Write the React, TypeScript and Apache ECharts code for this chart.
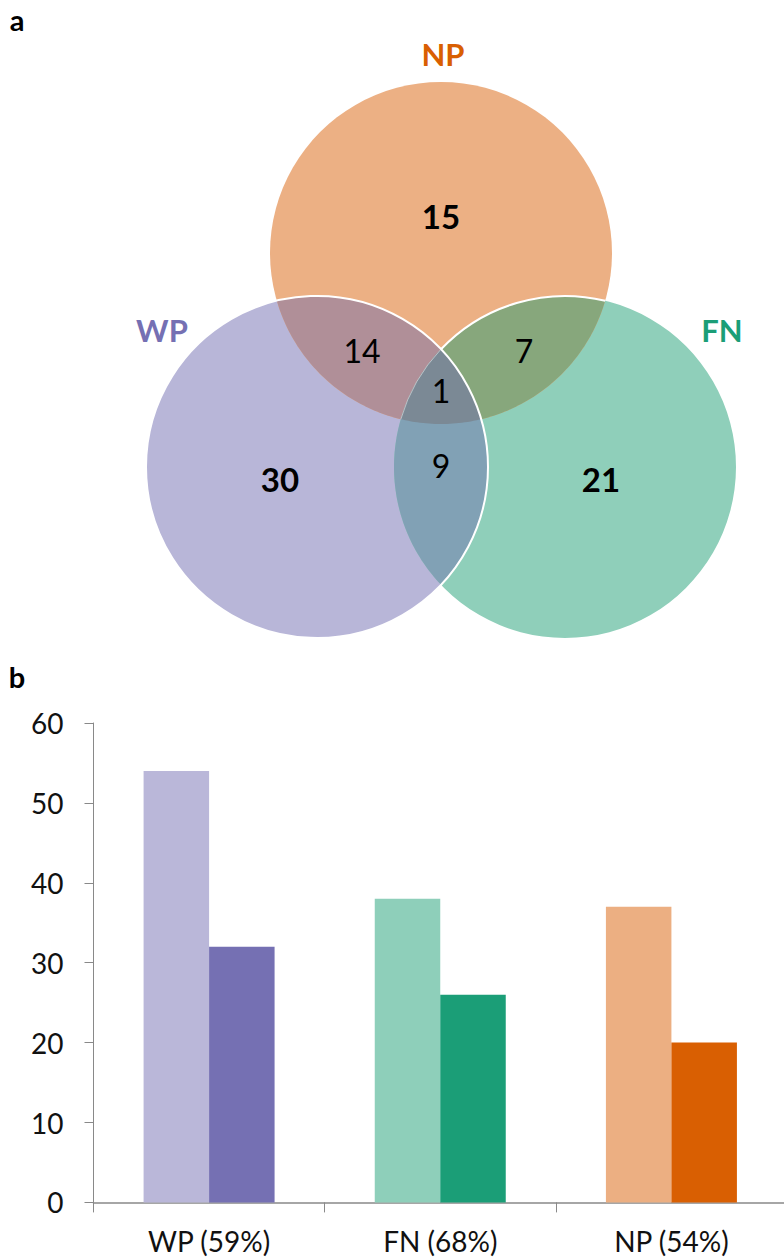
import React, { useEffect, useRef } from "react";
import * as echarts from "echarts";

// ---------- Bar chart data (panel b) ----------
const categories = ["WP (59%)", "FN (68%)", "NP (54%)"];
const lightValues = [54, 38, 37];
const darkValues = [32, 26, 20];
const lightColors = ["#bab7d9", "#8ecfba", "#ecaf82"];
const darkColors = ["#7570b3", "#1b9e77", "#d95f02"];
const yMin = 0;
const yMax = 60;
const yInterval = 10;

// ---------- Venn data (panel a) ----------
const vennSets = ["WP", "FN", "NP"];
const vennSetColors = ["#7570b3", "#1b9e77", "#d95f02"];
const vennOnlyCounts = [30, 21, 15]; // WP only, FN only, NP only
const vennPairNames = ["WP∩NP", "FN∩NP", "WP∩FN"];
const vennPairCounts = [14, 7, 9];
const vennTripleCount = 1;

// fills
const onlyFills = ["#b8b6d8", "#8fcfba", "#ecb084"];
const pairFills = ["#b08f98", "#87a77c", "#81a1b5"];
const tripleFill = "#7b8995";

const FONT = "Lato, 'Open Sans', sans-serif";

type P = [number, number];

function circlePoly(cx: number, cy: number, r: number, n = 360): P[] {
  const pts: P[] = [];
  for (let i = 0; i < n; i++) {
    const a = (2 * Math.PI * i) / n;
    pts.push([cx + r * Math.cos(a), cy + r * Math.sin(a)]);
  }
  return pts;
}

function clip(subject: P[], clipper: P[]): P[] {
  let output = subject;
  const m = clipper.length;
  for (let j = 0; j < m; j++) {
    const a = clipper[j];
    const b = clipper[(j + 1) % m];
    const inside = (p: P) => (b[0] - a[0]) * (p[1] - a[1]) - (b[1] - a[1]) * (p[0] - a[0]) >= 0;
    const inter = (p: P, q: P): P => {
      const x1 = p[0], y1 = p[1], x2 = q[0], y2 = q[1];
      const x3 = a[0], y3 = a[1], x4 = b[0], y4 = b[1];
      const d = (x1 - x2) * (y3 - y4) - (y1 - y2) * (x3 - x4);
      const t = ((x1 - x3) * (y3 - y4) - (y1 - y3) * (x3 - x4)) / d;
      return [x1 + t * (x2 - x1), y1 + t * (y2 - y1)];
    };
    const input = output;
    output = [];
    const n = input.length;
    for (let i = 0; i < n; i++) {
      const cur = input[i];
      const prev = input[(i + n - 1) % n];
      const ci = inside(cur);
      const pi = inside(prev);
      if (ci) {
        if (!pi) output.push(inter(prev, cur));
        output.push(cur);
      } else if (pi) {
        output.push(inter(prev, cur));
      }
    }
  }
  return output;
}

function circleIntersections(c1: P, c2: P, r: number): P[] {
  const dx = c2[0] - c1[0];
  const dy = c2[1] - c1[1];
  const d = Math.hypot(dx, dy);
  const h = Math.sqrt(r * r - (d / 2) * (d / 2));
  const mx = c1[0] + dx / 2;
  const my = c1[1] + dy / 2;
  const ux = -dy / d;
  const uy = dx / d;
  return [
    [mx + ux * h, my + uy * h],
    [mx - ux * h, my - uy * h],
  ];
}

export default function App() {
  const ref = useRef<HTMLDivElement>(null);

  useEffect(() => {
    document.body.style.margin = "0";
    document.body.style.overflow = "hidden";
    if (!ref.current) return;
    const chart = echarts.init(ref.current, null, { renderer: "svg" });

    // Venn geometry (layout)
    const R = 171;
    const centers: P[] = [
      [317, 467], // WP
      [565, 467], // FN
      [441, 253], // NP
    ];
    const polys = centers.map((c) => circlePoly(c[0], c[1], R));
    const pairIdx: [number, number][] = [
      [0, 2],
      [1, 2],
      [0, 1],
    ];

    const graphics: any[] = [];
    centers.forEach((c, i) => {
      graphics.push({
        type: "circle",
        shape: { cx: c[0], cy: c[1], r: R },
        style: { fill: onlyFills[i] },
        z: 1,
      });
    });
    pairIdx.forEach(([a, b], k) => {
      graphics.push({
        type: "polygon",
        shape: { points: clip(polys[a], polys[b]) },
        style: { fill: pairFills[k] },
        z: 2,
      });
    });
    graphics.push({
      type: "polygon",
      shape: { points: clip(clip(polys[0], polys[1]), polys[2]) },
      style: { fill: tripleFill },
      z: 3,
    });
    graphics.push({
      type: "circle",
      shape: { cx: centers[0][0], cy: centers[0][1], r: R },
      style: { fill: "none", stroke: "#ffffff", lineWidth: 2 },
      z: 4,
    });
    const fn = centers[1];
    const wpFnTop = circleIntersections(centers[0], centers[1], R).sort((p, q) => p[1] - q[1])[0];
    const fnNp = circleIntersections(centers[1], centers[2], R).sort((p, q) => p[1] - q[1]);
    const ang = (p: P) => Math.atan2(p[1] - fn[1], p[0] - fn[0]);
    graphics.push({
      type: "arc",
      shape: { cx: fn[0], cy: fn[1], r: R, startAngle: ang(wpFnTop), endAngle: ang(fnNp[0]), clockwise: true },
      style: { fill: "none", stroke: "#ffffff", lineWidth: 2 },
      z: 4,
    });
    graphics.push({
      type: "arc",
      shape: { cx: fn[0], cy: fn[1], r: R, startAngle: ang(fnNp[1]), endAngle: ang(wpFnTop), clockwise: true },
      style: { fill: "none", stroke: "rgba(255,255,255,0.45)", lineWidth: 1 },
      z: 4,
    });

    const txt = (text: string, x: number, y: number, size: number, weight: string, color: string) => ({
      type: "text",
      x,
      y,
      z: 10,
      style: {
        text,
        fill: color,
        fontSize: size,
        fontWeight: weight,
        fontFamily: FONT,
        align: "center",
        verticalAlign: "middle",
      },
    });

    graphics.push(txt("a", 17, 19, 29, "bold", "#000"));
    graphics.push(txt("b", 17, 676, 29, "bold", "#000"));

    const setLabelPos: P[] = [
      [162, 330],
      [722, 330],
      [443, 54],
    ];
    vennSets.forEach((s, i) => {
      graphics.push(txt(s, setLabelPos[i][0], setLabelPos[i][1], 31, "bold", vennSetColors[i]));
    });
    const onlyPos: P[] = [
      [280, 479],
      [601, 479],
      [441, 216],
    ];
    vennOnlyCounts.forEach((v, i) => {
      graphics.push(txt(String(v), onlyPos[i][0], onlyPos[i][1], 33, "bold", "#000"));
    });
    const pairPos: P[] = [
      [362, 350],
      [524, 350],
      [441, 465],
    ];
    vennPairCounts.forEach((v, i) => {
      graphics.push(txt(String(v), pairPos[i][0], pairPos[i][1], 32, "normal", "#000"));
    });
    graphics.push(txt(String(vennTripleCount), 441, 390, 32, "normal", "#000"));

    const axisGray = "#898989";

    chart.setOption({
      animation: false,
      graphic: { elements: graphics },
      grid: {
        left: 93.5,
        right: -3,
        top: 723,
        bottom: 56.6,
        outerBoundsMode: "none",
      },
      xAxis: {
        type: "category",
        data: categories,
        axisLine: { show: true, lineStyle: { color: axisGray, width: 1.5 } },
        axisTick: { show: true, alignWithLabel: false, length: 10, lineStyle: { color: axisGray } },
        axisLabel: { fontSize: 28, fontFamily: FONT, color: "#111", margin: 25 },
      },
      yAxis: {
        type: "value",
        min: yMin,
        max: yMax,
        interval: yInterval,
        splitLine: { show: false },
        axisLine: { show: true, lineStyle: { color: axisGray } },
        axisTick: { show: true, length: 9, lineStyle: { color: axisGray } },
        axisLabel: { fontSize: 28, fontFamily: FONT, color: "#111", margin: 30 },
      },
      series: [
        {
          name: "light",
          type: "bar",
          barWidth: 65.5,
          barGap: "0%",
          data: lightValues.map((v, i) => ({ value: v, itemStyle: { color: lightColors[i] } })),
        },
        {
          name: "dark",
          type: "bar",
          barWidth: 65.5,
          barGap: "0%",
          data: darkValues.map((v, i) => ({ value: v, itemStyle: { color: darkColors[i] } })),
        },
      ],
    });

    return () => chart.dispose();
  }, []);

  return (
    <div
      ref={ref}
      style={{ position: "absolute", left: 0, top: 0, width: 784, height: 1259 }}
    />
  );
}
